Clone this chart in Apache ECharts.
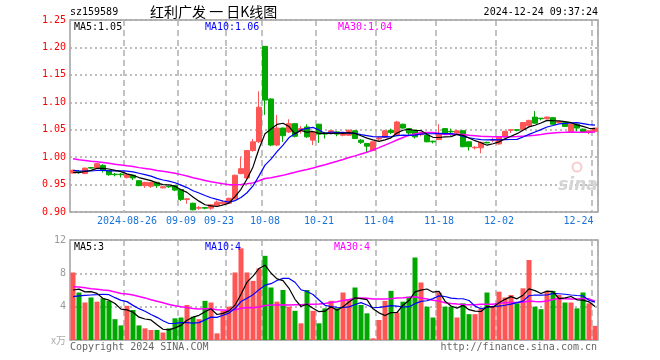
<!DOCTYPE html>
<html><head><meta charset="utf-8">
<script src="https://cdn.jsdelivr.net/npm/echarts@6/dist/echarts.min.js"></script>
<style>html,body{margin:0;padding:0;background:#fff}#c{width:660px;height:360px}</style>
</head><body><div id="c"></div>
<script>
const dates = ['2024-08-13','2024-08-14','2024-08-15','2024-08-16','2024-08-19','2024-08-20','2024-08-21','2024-08-22','2024-08-23',
'2024-08-26','2024-08-27','2024-08-28','2024-08-29','2024-08-30','2024-09-03','2024-09-04','2024-09-05','2024-09-06',
'2024-09-09','2024-09-10','2024-09-11','2024-09-12','2024-09-13','2024-09-18','2024-09-19','2024-09-20',
'2024-09-23','2024-09-24','2024-09-25','2024-09-26','2024-09-27','2024-09-30',
'2024-10-08','2024-10-09','2024-10-10','2024-10-11','2024-10-14','2024-10-15','2024-10-16','2024-10-17','2024-10-18',
'2024-10-21','2024-10-22','2024-10-23','2024-10-24','2024-10-25','2024-10-28','2024-10-29','2024-10-30','2024-10-31','2024-11-01',
'2024-11-04','2024-11-05','2024-11-06','2024-11-07','2024-11-08','2024-11-11','2024-11-12','2024-11-13','2024-11-14','2024-11-15',
'2024-11-18','2024-11-19','2024-11-20','2024-11-21','2024-11-22','2024-11-25','2024-11-26','2024-11-27','2024-11-28','2024-11-29',
'2024-12-02','2024-12-03','2024-12-04','2024-12-05','2024-12-06','2024-12-09','2024-12-10','2024-12-11','2024-12-12','2024-12-13',
'2024-12-16','2024-12-17','2024-12-18','2024-12-19','2024-12-20','2024-12-23','2024-12-24'];

const openP = [0.971,0.974,0.970,0.981,0.980,0.985,0.975,0.969,0.969,0.963,0.967,0.957,0.948,0.947,0.954,0.944,0.947,0.948,
0.941,0.923,0.916,0.907,0.908,0.907,0.912,0.915,0.916,0.924,0.970,0.962,1.012,1.028,
1.202,1.106,1.022,1.053,1.046,1.061,1.048,1.055,1.031,
1.060,1.043,1.045,1.046,1.040,1.040,1.048,1.031,1.025,1.012,
1.033,1.036,1.049,1.041,1.060,1.052,1.049,1.041,1.040,1.029,
1.032,1.052,1.047,1.044,1.048,1.028,1.017,1.017,1.027,1.031,
1.024,1.037,1.049,1.050,1.051,1.057,1.073,1.071,1.070,1.072,1.063,1.063,1.047,1.060,1.051,1.046,1.047];
const closeP = [0.976,0.973,0.980,0.980,0.988,0.976,0.968,0.968,0.968,0.968,0.962,0.948,0.954,0.954,0.948,0.946,0.946,0.940,
0.923,0.924,0.904,0.908,0.907,0.913,0.918,0.918,0.925,0.967,0.979,1.012,1.028,1.091,
1.104,1.022,1.053,1.039,1.061,1.038,1.052,1.037,1.046,
1.042,1.042,1.048,1.042,1.043,1.049,1.034,1.027,1.020,1.028,
1.035,1.048,1.045,1.064,1.053,1.044,1.037,1.044,1.028,1.028,
1.042,1.043,1.046,1.048,1.019,1.019,1.018,1.027,1.026,1.032,
1.036,1.047,1.050,1.049,1.063,1.067,1.062,1.070,1.073,1.060,1.065,1.056,1.060,1.053,1.046,1.048,1.053];
const lowP = [0.970,0.970,0.969,0.979,0.979,0.972,0.966,0.965,0.963,0.961,0.958,0.947,0.944,0.944,0.944,0.943,0.944,0.938,
0.920,0.915,0.903,0.904,0.905,0.904,0.909,0.913,0.915,0.923,0.969,0.960,1.010,1.026,
1.077,1.020,1.020,1.028,1.044,1.036,1.043,1.035,1.022,
1.026,1.034,1.043,1.038,1.038,1.039,1.033,1.024,1.009,1.011,
1.030,1.035,1.042,1.040,1.052,1.040,1.034,1.038,1.027,1.025,
1.031,1.042,1.039,1.043,1.018,1.012,1.014,1.007,1.025,1.027,
1.023,1.036,1.044,1.047,1.050,1.056,1.061,1.067,1.069,1.059,1.062,1.055,1.046,1.047,1.045,1.042,1.046];
const highP = [0.977,0.976,0.981,0.982,0.989,0.987,0.976,0.971,0.971,0.969,0.968,0.958,0.955,0.955,0.955,0.947,0.948,0.949,
0.942,0.924,0.917,0.911,0.909,0.914,0.921,0.921,0.926,0.968,1.000,1.013,1.033,1.120,
1.202,1.107,1.077,1.054,1.069,1.062,1.057,1.060,1.047,
1.061,1.046,1.049,1.047,1.044,1.050,1.049,1.033,1.026,1.029,
1.037,1.049,1.052,1.066,1.061,1.053,1.050,1.046,1.041,1.030,
1.060,1.053,1.052,1.049,1.049,1.029,1.020,1.028,1.028,1.035,
1.037,1.048,1.051,1.050,1.064,1.068,1.084,1.071,1.074,1.073,1.066,1.064,1.061,1.061,1.052,1.049,1.054];
const volume = [8.1,5.7,4.5,5.1,4.6,5.0,4.7,2.5,1.75,4.1,3.6,1.75,1.4,1.2,1.2,0.9,1.4,2.6,2.7,4.2,2.8,2.5,4.7,4.5,0.8,3.5,4.0,
8.1,11.0,8.1,7.1,8.6,10.1,6.3,4.6,6.0,4.0,3.5,2.0,6.0,3.5,2.0,3.8,
4.7,3.8,5.7,4.8,6.3,4.2,3.2,0.2,2.4,4.7,5.9,3.3,4.6,5.2,9.9,6.9,4.0,2.7,5.7,4.0,4.0,2.7,4.4,3.1,3.1,3.8,5.7,4.0,
5.8,5.1,5.4,4.4,6.2,9.6,4.0,3.7,5.8,5.9,5.4,4.5,4.5,3.8,5.7,4.4,1.7];
// estimated sessions before the visible window (only used for the moving averages)
const priorClose = [1.021,1.018,1.024,1.016,1.012,1.019,1.013,1.010,1.014,1.004,1.006,0.998,1.003,1.008,0.997,0.994,1.001,0.996,0.999,0.993,
0.985,0.982,0.979,0.978,0.976,0.974,0.970,0.969,0.971];
const priorVolume = [6.8,7.5,8.2,6.9,7.4,6.5,7.8,7.0,6.6,6.85,7.2,6.4,7.9,6.8,6.1,7.5,6.9,6.3,7.0,6.35,4.8,3.9,4.6,4.2,4.5,5.2,6.1,5.0,5.6];

const tickDates = ['2024-08-26','2024-09-09','2024-09-23','2024-10-08','2024-10-21','2024-11-04','2024-11-18','2024-12-02','2024-12-24'];
const priceMin = 0.90, priceMax = 1.25, priceStep = 0.05;
const volMin = 0, volMax = 12, volStep = 4;

const UP = '#ff5555', DOWN = '#00a800';
const MONO = '"DejaVu Sans Mono", "Liberation Mono", monospace';

function movingAvg(prior, vals, n) {
  const all = prior.concat(vals);
  const off = prior.length;
  return vals.map((_, i) => {
    let s = 0;
    for (let k = off + i - n + 1; k <= off + i; k++) s += all[k];
    return +(s / n).toFixed(4);
  });
}
const tickIdx = tickDates.map(d => dates.indexOf(d));
const kData = dates.map((_, i) => [openP[i], closeP[i], lowP[i], highP[i]]);
const volData = volume.map((v, i) => ({ value: v, itemStyle: { color: closeP[i] >= openP[i] ? UP : DOWN } }));

const chart = echarts.init(document.getElementById('c'), null, { renderer: 'canvas' });
const gridStyle = { show: true, borderColor: '#a0a0a0', borderWidth: 1.5, backgroundColor: 'transparent' };
const splitX = { show: true, interval: (i) => tickIdx.includes(i), lineStyle: { color: '#b0b0b0', type: [6, 4], width: 1.5 } };

function txt(x, y, text, fill, font, align) {
  return { type: 'text', x, y, silent: true, z: 100,
    style: { text, fill, font, align: align || 'left', verticalAlign: 'middle', textAlign: align || 'left', textVerticalAlign: 'middle' } };
}

chart.setOption({
  animation: false,
  backgroundColor: '#fff',
  grid: [
    Object.assign({ left: 70, top: 20, width: 528, height: 192 }, gridStyle),
    Object.assign({ left: 70, top: 240, width: 528, height: 100 }, gridStyle)
  ],
  xAxis: [
    { type: 'category', gridIndex: 0, data: dates, boundaryGap: true,
      axisLine: { show: false }, axisTick: { show: false },
      splitLine: splitX,
      axisLabel: { show: true, interval: (i) => tickIdx.includes(i), margin: 4, color: '#1a73d9',
        fontFamily: MONO, fontSize: 10,
        formatter: (v, i) => {
          if (v === tickDates[0]) return v;
          const s = v.slice(5);
          if (v === tickDates[2]) return '{a|' + s + '}';
          if (v === tickDates[tickDates.length - 1]) return '{b|' + s + '}';
          return s;
        },
        rich: { a: { padding: [0, 20, 0, 0], color: '#1a73d9', fontFamily: MONO, fontSize: 10 },
                b: { padding: [0, 33, 0, 0], color: '#1a73d9', fontFamily: MONO, fontSize: 10 } } } },
    { type: 'category', gridIndex: 1, data: dates, boundaryGap: true,
      axisLine: { show: false }, axisTick: { show: false }, axisLabel: { show: false },
      splitLine: splitX }
  ],
  yAxis: [
    { type: 'value', gridIndex: 0, min: priceMin, max: priceMax, interval: priceStep, position: 'left',
      axisLine: { show: false }, axisTick: { show: false },
      axisLabel: { color: '#ff0000', fontFamily: MONO, fontSize: 10, margin: 4, formatter: v => v.toFixed(2) },
      splitLine: { show: true, lineStyle: { color: '#a8a8a8', type: [2, 3], width: 1.5 } } },
    { type: 'value', gridIndex: 1, min: volMin, max: volMax, interval: volStep, position: 'left',
      axisLine: { show: false }, axisTick: { show: false },
      axisLabel: { color: '#999', fontFamily: MONO, fontSize: 10, margin: 4, formatter: v => v === 0 ? '' : String(v) },
      splitLine: { show: true, lineStyle: { color: '#a8a8a8', type: [2, 3], width: 1.5 } } }
  ],
  series: [
    { type: 'candlestick', xAxisIndex: 0, yAxisIndex: 0, data: kData, barWidth: 5,
      itemStyle: { color: UP, color0: DOWN, borderColor: UP, borderColor0: DOWN, borderWidth: 1 } },
    { type: 'line', xAxisIndex: 0, yAxisIndex: 0, data: movingAvg(priorClose, closeP, 30), symbol: 'none',
      lineStyle: { color: '#ff00ff', width: 1.5 }, z: 3 },
    { type: 'line', xAxisIndex: 0, yAxisIndex: 0, data: movingAvg(priorClose, closeP, 10), symbol: 'none',
      lineStyle: { color: '#0000ff', width: 1.2 }, z: 4 },
    { type: 'line', xAxisIndex: 0, yAxisIndex: 0, data: movingAvg(priorClose, closeP, 5), symbol: 'none',
      lineStyle: { color: '#000000', width: 1.2 }, z: 5 },
    { type: 'bar', xAxisIndex: 1, yAxisIndex: 1, data: volData, barWidth: 5 },
    { type: 'line', xAxisIndex: 1, yAxisIndex: 1, data: movingAvg(priorVolume, volume, 30), symbol: 'none',
      lineStyle: { color: '#ff00ff', width: 1.5 }, z: 3 },
    { type: 'line', xAxisIndex: 1, yAxisIndex: 1, data: movingAvg(priorVolume, volume, 10), symbol: 'none',
      lineStyle: { color: '#0000ff', width: 1.2 }, z: 4 },
    { type: 'line', xAxisIndex: 1, yAxisIndex: 1, data: movingAvg(priorVolume, volume, 5), symbol: 'none',
      lineStyle: { color: '#000000', width: 1.2 }, z: 5 }
  ],
  graphic: [
    txt(70, 12, 'sz159589', '#000', '10px ' + MONO),
    txt(150, 12, '红利广发 一 日K线图', '#000', '14px "Noto Sans CJK SC"'),
    txt(598, 12, '2024-12-24 09:37:24', '#000', '10px ' + MONO, 'right'),
    txt(74, 27, 'MA5:1.05', '#000', '10px ' + MONO),
    txt(205, 27, 'MA10:1.06', '#0000ff', '10px ' + MONO),
    txt(338, 27, 'MA30:1.04', '#ff00ff', '10px ' + MONO),
    txt(74, 247, 'MA5:3', '#000', '10px ' + MONO),
    txt(205, 247, 'MA10:4', '#0000ff', '10px ' + MONO),
    txt(334, 247, 'MA30:4', '#ff00ff', '10px ' + MONO),
    txt(66, 340, 'x万', '#aaa', '10px "Noto Sans CJK SC"', 'right'),
    txt(70, 347, 'Copyright 2024 SINA.COM', '#666', '10px ' + MONO),
    txt(597, 347, 'http://finance.sina.com.cn', '#666', '10px ' + MONO, 'right'),
    { type: 'circle', shape: { cx: 577, cy: 167, r: 4.5 }, silent: true, z: 90,
      style: { fill: 'none', stroke: '#f6cccc', lineWidth: 2 } },
    txt(578, 186, 'sina', '#d4d4d4', 'italic bold 17px "DejaVu Sans"', 'center')
  ]
});
</script></body></html>
